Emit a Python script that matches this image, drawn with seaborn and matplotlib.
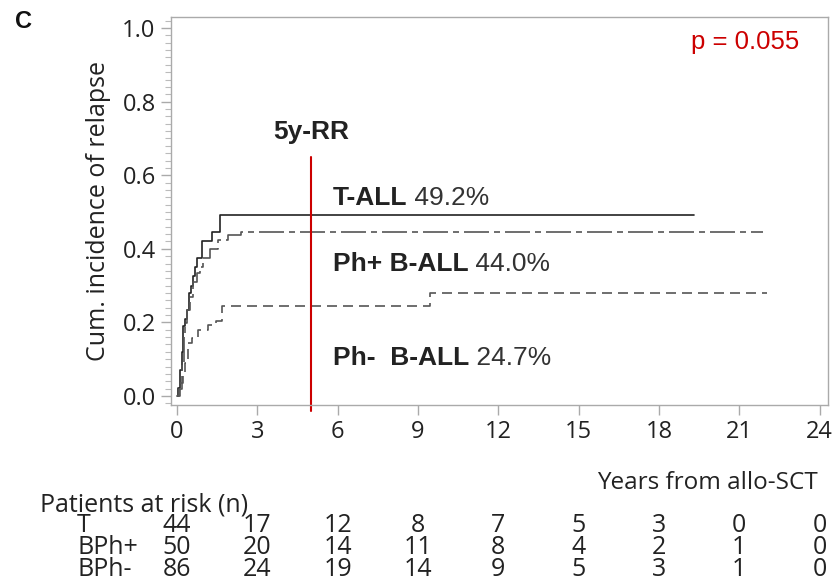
import matplotlib
matplotlib.use('Agg')
import matplotlib.pyplot as plt
import matplotlib.transforms as mtransforms
from matplotlib import font_manager
from matplotlib.ticker import MultipleLocator
import pandas as pd
import seaborn as sns

# step data
t_all_years = [0, 0.05, 0.12, 0.18, 0.24, 0.30, 0.38, 0.45, 0.52, 0.60, 0.68, 0.75, 0.92, 1.30, 1.62, 19.3]
t_all_cif = [0, 0.023, 0.07, 0.12, 0.19, 0.21, 0.235, 0.28, 0.30, 0.325, 0.35, 0.375, 0.42, 0.447, 0.493, 0.493]

php_years = [0, 0.06, 0.17, 0.25, 0.30, 0.36, 0.48, 0.60, 0.73, 0.85, 0.98, 1.23, 1.54, 1.90, 2.40, 21.9]
php_cif = [0, 0.02, 0.09, 0.16, 0.198, 0.234, 0.27, 0.31, 0.333, 0.35, 0.374, 0.40, 0.424, 0.437, 0.445, 0.445]

phm_years = [0, 0.11, 0.22, 0.30, 0.42, 0.55, 0.80, 1.17, 1.45, 1.67, 9.44, 22.05]
phm_cif = [0, 0.035, 0.06, 0.089, 0.143, 0.157, 0.179, 0.193, 0.204, 0.244, 0.28, 0.28]

groups = ['T', 'BPh+', 'BPh-']
risk_times = [0, 3, 6, 9, 12, 15, 18, 21, 24]
risk_counts = {
    'T': [44, 17, 12, 8, 7, 5, 3, 0, 0],
    'BPh+': [50, 20, 14, 11, 8, 4, 2, 1, 0],
    'BPh-': [86, 24, 19, 14, 9, 5, 3, 1, 0],
}


def pick_font(names):
    have = {f.name for f in font_manager.fontManager.ttflist}
    for n in names:
        if n in have:
            return n
    return 'DejaVu Sans'


narrow = pick_font(['Liberation Sans Narrow', 'Open Sans', 'DejaVu Sans'])
arial = pick_font(['Liberation Sans', 'Arimo', 'DejaVu Sans'])

sns.set_style('white')
plt.rcParams['font.family'] = [narrow]

df = pd.concat([
    pd.DataFrame({'years': t_all_years, 'cif': t_all_cif, 'group': 'T'}),
    pd.DataFrame({'years': php_years, 'cif': php_cif, 'group': 'BPh+'}),
    pd.DataFrame({'years': phm_years, 'cif': phm_cif, 'group': 'BPh-'}),
])

fig = plt.figure(figsize=(8.36, 5.82), dpi=100)
ax = fig.add_axes([0.2045, 0.3041, 0.7855, 0.6667])

sns.lineplot(data=df, x='years', y='cif', hue='group', style='group',
             palette={'T': '#222222', 'BPh+': '#555555', 'BPh-': '#555555'},
             dashes={'T': '', 'BPh+': (15, 3, 3.6, 3), 'BPh-': (6, 3.6)},
             drawstyle='steps-post', estimator=None, sort=False,
             linewidth=1.2, legend=False, ax=ax)

ax.set_xlim(-0.224, 24.3)
ax.set_ylim(-0.0245, 1.03)
ax.set_xticks(risk_times)
ax.set_yticks([0, 0.2, 0.4, 0.6, 0.8, 1.0])
ax.set_yticklabels(['0.0', '0.2', '0.4', '0.6', '0.8', '1.0'])
ax.yaxis.set_minor_locator(MultipleLocator(0.02))
ax.tick_params(axis='both', which='major', direction='out', length=7, width=1,
               color='#aaaaaa', labelsize=17, labelcolor='#222222', pad=4)
ax.tick_params(axis='y', which='minor', direction='out', length=4, width=0.8,
               color='#bbbbbb', left=True)
ax.tick_params(axis='x', bottom=True)
ax.tick_params(axis='y', left=True)
for s in ax.spines.values():
    s.set_color('#aaaaaa')
    s.set_linewidth(1)
ax.set_xlabel('')
ax.set_ylabel('Cum. incidence of relapse', fontsize=18, color='#222222', labelpad=8)

# 5-year marker
ax.plot([5, 5], [-0.042, 0.65], color='#cc0000', linewidth=1.5, clip_on=False)
ax.text(5, 0.717, '5y-RR', family=arial, fontweight='bold', fontsize=19,
        color='#222222', ha='center', va='center')

labels = [('T-ALL', '49.2%', 0.538), ('Ph+ B-ALL', '44.0%', 0.359), ('Ph-  B-ALL', '24.7%', 0.103)]
for bold, pct, yy in labels:
    t = ax.text(5.82, yy, bold, family=arial, fontweight='bold', fontsize=19,
                color='#222222', va='center')
    ax.annotate(' ' + pct, xy=(1, 0.5), xycoords=t, family=arial, fontsize=19,
                color='#333333', va='center', ha='left')

ax.text(0.957, 0.935, 'p = 0.055', transform=ax.transAxes, family=arial,
        fontsize=18.5, color='#cc0000', ha='right', va='center')

fig.text(0.028, 0.963, 'C', family=arial, fontweight='bold', fontsize=17,
         color='#111111', ha='center', va='center')

# risk table
fig.text(0.978, 1 - 483 / 582, 'Years from allo-SCT', fontsize=17.5,
         color='#222222', ha='right', va='center')
fig.text(40 / 836, 1 - 505 / 582, 'Patients at risk (n)', fontsize=18,
         color='#222222', ha='left', va='center')
blend = mtransforms.blended_transform_factory(ax.transData, fig.transFigure)
row_y = [526, 548, 569]
for g, py in zip(groups, row_y):
    fig.text(77 / 836, 1 - py / 582, g, fontsize=18, color='#222222',
             ha='left', va='center')
    for tt, n in zip(risk_times, risk_counts[g]):
        ax.text(tt, 1 - py / 582, str(n), transform=blend, fontsize=18,
                color='#222222', ha='center', va='center', clip_on=False)

fig.savefig('out.png', dpi=100)
